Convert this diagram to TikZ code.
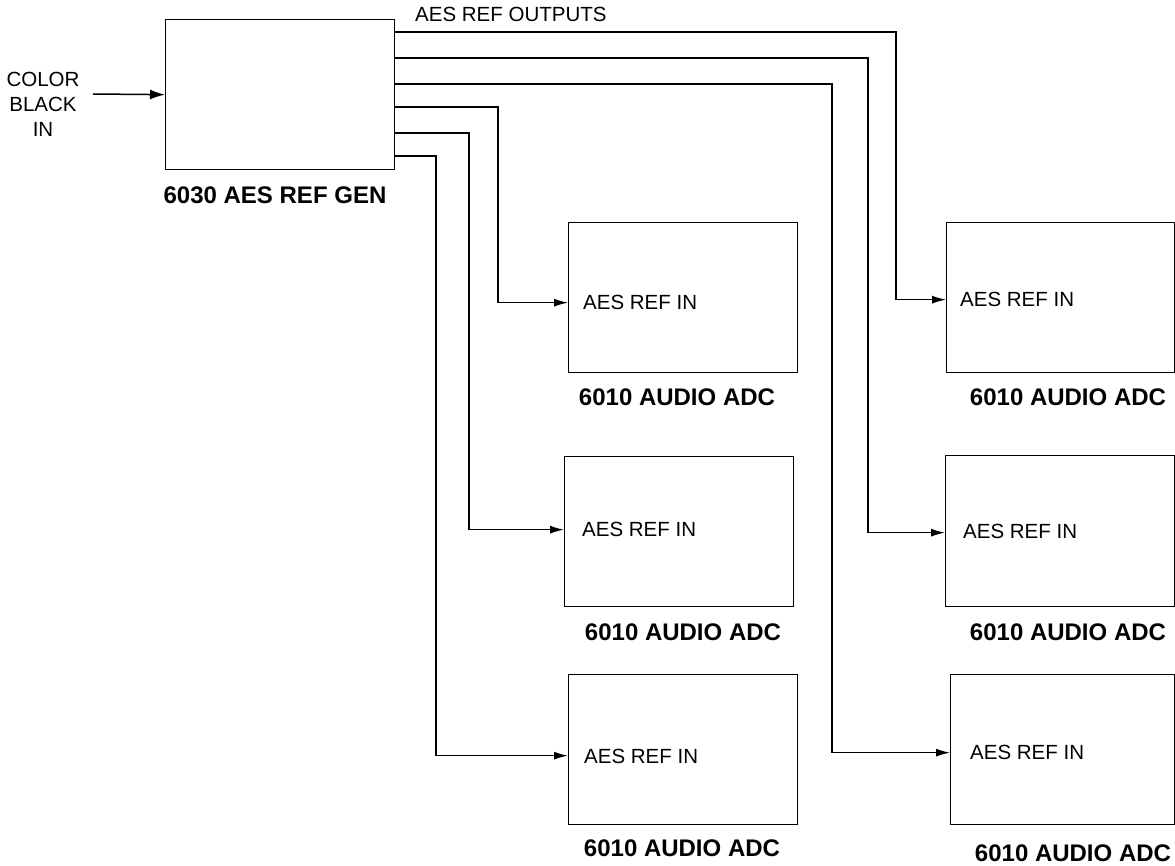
\documentclass[tikz,border=0pt]{standalone}
\usepackage{fontspec}
\setmainfont{Liberation Sans}
\usetikzlibrary{arrows.meta}
\begin{document}
\begin{tikzpicture}[x=1pt,y=-1pt,
  box/.style={draw, line width=1.3pt, anchor=north west, inner sep=0pt, minimum width=229pt, minimum height=150pt},
  wire/.style={line width=1.3pt, -{Latex[length=14pt,width=8pt]}},
  bigwire/.style={line width=1.5pt, -{Latex[length=15pt,width=10pt]}},
  plain/.style={font=\fontsize{20.5}{25}\selectfont, inner sep=0pt},
  boldlbl/.style={font=\fontsize{24}{28}\selectfont\bfseries, inner sep=0pt}]
\useasboundingbox (0,0) rectangle (1175,865);

% generator
\node[box, minimum width=229pt, minimum height=150pt] (gen) at (165,19) {};
\node[boldlbl] (genlbl) at (275,195) {6030 AES REF GEN};
\node[plain, align=center] (cin) at (43,104) {COLOR\\BLACK\\IN};
\coordinate (cbstart) at (93,94);
\draw[bigwire] (cbstart) -- (gen.west);
\node[plain, anchor=west] (outlbl) at (415,14) {AES REF OUTPUTS};

% receivers
\node[box] (tm) at (568,222) {};
\node[box] (mm) at (564,456) {};
\node[box] (bm) at (568,674) {};
\node[box, minimum width=228pt] (tr) at (946,222) {};
\node[box, minimum width=229pt, minimum height=151pt] (mr) at (945,455) {};
\node[box, minimum width=224pt] (br) at (950,674) {};

\node[plain, anchor=west] (tmin) at (583,302) {AES REF IN};
\node[plain, anchor=west] (mmin) at (582,529) {AES REF IN};
\node[plain, anchor=west] (bmin) at (584,756) {AES REF IN};
\node[plain, anchor=west] (trin) at (960,299) {AES REF IN};
\node[plain, anchor=west] (mrin) at (963,531) {AES REF IN};
\node[plain, anchor=west] (brin) at (970,752) {AES REF IN};

\node[boldlbl] (tmlbl) at (677,397) {6010 AUDIO ADC};
\node[boldlbl] (mmlbl) at (683,632) {6010 AUDIO ADC};
\node[boldlbl] (bmlbl) at (682,848) {6010 AUDIO ADC};
\node[boldlbl] (trlbl) at (1068,397) {6010 AUDIO ADC};
\node[boldlbl] (mrlbl) at (1068,632) {6010 AUDIO ADC};
\node[boldlbl] (brlbl) at (1073,853) {6010 AUDIO ADC};

% corner points of the output wires
\coordinate (c1) at (896,32);
\coordinate (c2) at (868,58);
\coordinate (c3) at (832,84);
\coordinate (c4) at (498,107);
\coordinate (c5) at (469,133);
\coordinate (c6) at (436,156);

\draw[wire] (gen.east |- c1) -- (c1) |- ([yshift=-2pt]tr.west);
\draw[wire] (gen.east |- c2) -- (c2) |- ([yshift=-1.5pt]mr.west);
\draw[wire] (gen.east |- c3) -- (c3) |- ([yshift=-3pt]br.west);
\draw[wire] (gen.east |- c4) -- (c4) |- ([yshift=-5pt]tm.west);
\draw[wire] (gen.east |- c5) -- (c5) |- ([yshift=2pt]mm.west);
\draw[wire] (gen.east |- c6) -- (c6) |- ([yshift=-6pt]bm.west);
\end{tikzpicture}
\end{document}
